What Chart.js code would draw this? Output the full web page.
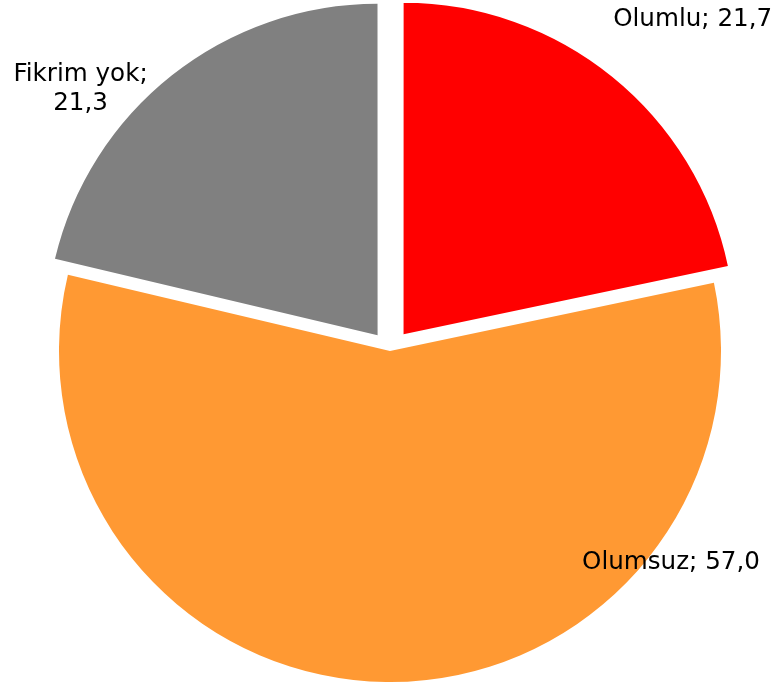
<!DOCTYPE html>
<html>
<head>
<meta charset="utf-8">
<script src="https://cdn.jsdelivr.net/npm/chart.js@4/dist/chart.umd.min.js"></script>
<style>
  html, body { margin: 0; padding: 0; background: #fff; }
  #wrap { width: 776px; height: 682px; }
</style>
</head>
<body>
<div id="wrap"><canvas id="myChart" width="776" height="682"></canvas></div>
<script>
const categories = ["Olumlu", "Olumsuz", "Fikrim yok"];
const values = [21.7, 57.0, 21.3];
const colors = ["#ff0000", "#ff9933", "#808080"];
const explode = [86, 0, 80];
// label lines, and where they sit: angle from top (deg) and distance / radius
const labelLines = [["Olumlu; 21,7"], ["Olumsuz; 57,0"], ["Fikrim yok;", "21,3"]];
const labelAngle = [42.4, 127.0, 310.2];
const labelDist = [1.356, 1.063, 1.224];

const labelPlugin = {
  id: "pieLabels",
  afterDatasetsDraw(chart) {
    const ctx = chart.ctx;
    const arcs = chart.getDatasetMeta(0).data;
    ctx.save();
    ctx.font = "24.6px 'DejaVu Sans', Verdana, sans-serif";
    ctx.fillStyle = "#000";
    ctx.textAlign = "center";
    ctx.textBaseline = "middle";
    arcs.forEach((arc, i) => {
      const a = labelAngle[i] * Math.PI / 180;
      const d = labelDist[i] * arc.outerRadius;
      const cx = arc.x + Math.sin(a) * d;
      const cy = arc.y - Math.cos(a) * d;
      const lines = labelLines[i];
      const lh = 29;
      lines.forEach((t, k) => {
        ctx.fillText(t, cx, cy + (k - (lines.length - 1) / 2) * lh);
      });
    });
    ctx.restore();
  }
};

const ctx = document.getElementById("myChart").getContext("2d");
const myChart = new Chart(ctx, {
  type: "pie",
  data: {
    labels: categories,
    datasets: [
      {
        data: values,
        backgroundColor: colors,
        borderWidth: 0,
        offset: explode,
      },
    ],
  },
  options: {
    responsive: false,
    animation: false,
    radius: 331,
    layout: { padding: { top: 20, left: 4, right: 0, bottom: 0 } },
    plugins: {
      legend: { display: false },
      tooltip: { enabled: false },
    },
  },
  plugins: [labelPlugin],
});
</script>
</body>
</html>
